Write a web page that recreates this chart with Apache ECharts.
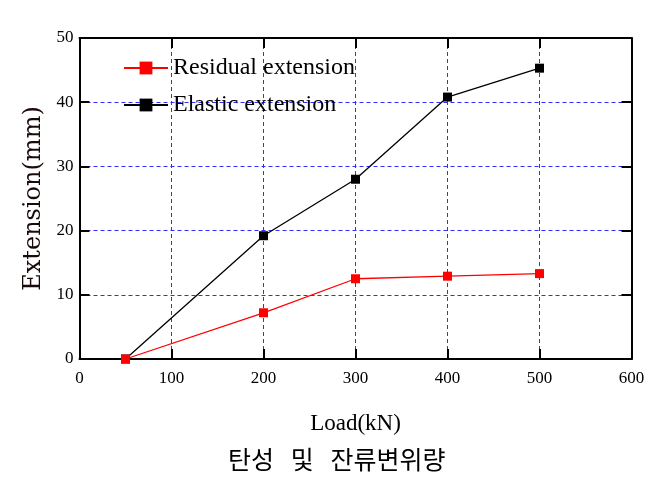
<!DOCTYPE html>
<html>
<head>
<meta charset="utf-8">
<script src="https://cdn.jsdelivr.net/npm/echarts@6/dist/echarts.min.js"></script>
<style>
  html, body { margin: 0; padding: 0; background: #fff; }
  #chart { width: 658px; height: 490px; }
</style>
</head>
<body>
<div id="chart"></div>
<script>
  // load steps (kN)
  const loads = [50, 200, 300, 400, 500]
  // residual / elastic extension (mm)
  const residual = [0, 7.2, 12.5, 12.9, 13.3]
  const elastic = [0, 19.2, 28.0, 40.8, 45.3]
  const xTicks = [0, 600, 100]
  const yTicks = [0, 50, 10]

  const serif = 'Liberation Serif'
  let chart = echarts.init(document.getElementById('chart'))

  const pairs = (ys) => loads.map((x, i) => [x, ys[i]])

  // shared axis look: black frame, inward ticks
  const frameAxis = {
    axisLine: { show: true, onZero: false, lineStyle: { color: '#000', width: 2 } },
    axisTick: { show: true, inside: true, length: 10, lineStyle: { color: '#000', width: 2 } },
  }
  const grid = {
    splitLine: { show: true, lineStyle: { color: '#2f2fff', type: [4, 3], width: 1 } }
  }

  chart.setOption({
    backgroundColor: '#fff',
    animation: false,
    grid: { left: 79.5, right: 26.5, top: 38, bottom: 131 },
    legend: {
      left: 118, top: 51, orient: 'vertical',
      itemWidth: 44, itemHeight: 16, itemGap: 13,
      textStyle: { fontFamily: serif, fontSize: 24, color: '#000' },
      data: ['Residual extension', 'Elastic extension']
    },
    xAxis: [
      Object.assign({}, frameAxis, grid, {
        type: 'value', min: xTicks[0], max: xTicks[1], interval: xTicks[2],
        name: 'Load(kN)', nameLocation: 'middle', nameGap: 53,
        nameTextStyle: { fontFamily: serif, fontSize: 23, color: '#000' },
        axisLabel: { fontFamily: serif, fontSize: 17, color: '#000', margin: 11 }
      }),
      Object.assign({}, frameAxis, {
        type: 'value', position: 'top', min: xTicks[0], max: xTicks[1], interval: xTicks[2],
        axisLabel: { show: false }, splitLine: { show: false }
      })
    ],
    yAxis: [
      Object.assign({}, frameAxis, grid, {
        type: 'value', min: yTicks[0], max: yTicks[1], interval: yTicks[2],
        name: 'Extension(mm)', nameLocation: 'middle', nameGap: 34,
        nameTextStyle: { fontFamily: 'DejaVu Serif', fontSize: 24, color: '#1a0a0a' },
        axisLabel: { fontFamily: serif, fontSize: 17, color: '#000', margin: 6 }
      }),
      Object.assign({}, frameAxis, {
        type: 'value', position: 'right', min: yTicks[0], max: yTicks[1], interval: yTicks[2],
        axisLabel: { show: false }, splitLine: { show: false }
      })
    ],
    series: [
      {
        name: 'Residual extension', type: 'line', data: pairs(residual),
        symbol: 'rect', symbolSize: 9, z: 5,
        lineStyle: { color: '#ff0000', width: 1.3 }, itemStyle: { color: '#ff0000' }
      },
      {
        name: 'Elastic extension', type: 'line', data: pairs(elastic),
        symbol: 'rect', symbolSize: 9, z: 4,
        lineStyle: { color: '#000', width: 1.3 }, itemStyle: { color: '#000' }
      }
    ],
    graphic: [{
      type: 'text', left: 228, top: 447,
      style: { text: '탄성   및   잔류변위량', font: '25px "Noto Sans CJK KR"', fill: '#000' }
    }]
  })
</script>
</body>
</html>
